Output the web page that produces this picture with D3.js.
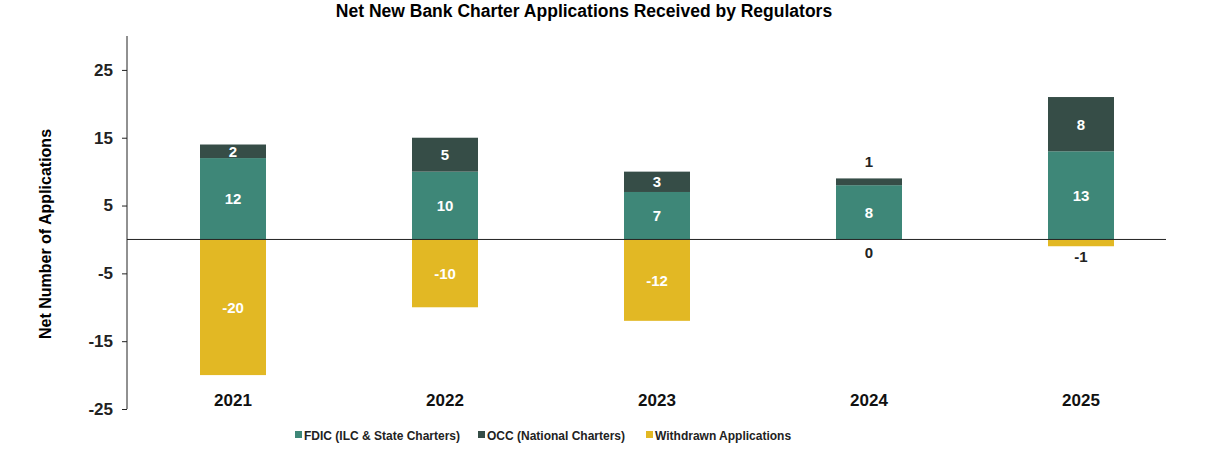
<!DOCTYPE html>
<html>
<head>
<meta charset="utf-8">
<script src="https://cdn.jsdelivr.net/npm/d3@7"></script>
<style>
  body { margin: 0; background: #fff; }
  svg text { font-family: "Liberation Sans", Arial, sans-serif; }
</style>
</head>
<body>
<div id="chart"></div>
<script>
// Data
var years = ["2021", "2022", "2023", "2024", "2025"];
var fdic = [12, 10, 7, 8, 13];
var occ = [2, 5, 3, 1, 8];
var withdrawn = [-20, -10, -12, 0, -1];
var yTicks = [25, 15, 5, -5, -15, -25];

var svgWidth = 1232;
var svgHeight = 459;

var colors = {
  fdic: "#3e8778",
  occ: "#364d47",
  withdrawn: "#e2b824"
};

var svg = d3.select("#chart")
  .append("svg")
  .attr("width", svgWidth)
  .attr("height", svgHeight);

var xScale = d3.scaleBand()
  .domain(years)
  .range([127, 1187]);

var yScale = d3.scaleLinear()
  .domain([-25, 30])
  .range([409, 36]);

var barWidth = 66;

// title
svg.append("text")
  .attr("x", 584)
  .attr("y", 17)
  .attr("text-anchor", "middle")
  .style("font-size", "17.5px")
  .style("font-weight", "bold")
  .style("fill", "#000")
  .text("Net New Bank Charter Applications Received by Regulators");

// y axis
var leftAxis = d3.axisLeft(yScale)
  .tickValues(yTicks)
  .tickFormat(d => String(d))
  .tickSize(5)
  .tickPadding(9);

var yAxis = svg.append("g")
  .attr("transform", "translate(127,0)")
  .call(leftAxis);

yAxis.select(".domain")
  .attr("d", "M0," + yScale(30) + "V" + yScale(-25))
  .attr("stroke", "#222");
yAxis.selectAll(".tick line").attr("stroke", "#222");
yAxis.selectAll(".tick text")
  .style("font-size", "17px")
  .style("font-weight", "bold")
  .style("fill", "#222");

// y axis title
svg.append("text")
  .attr("transform", "rotate(-90)")
  .attr("x", -234)
  .attr("y", 51)
  .attr("text-anchor", "middle")
  .style("font-size", "16px")
  .style("font-weight", "bold")
  .style("fill", "#000")
  .text("Net Number of Applications");

// build segments
var segments = [];
years.forEach(function(yr, i) {
  segments.push({ year: yr, key: "fdic", y0: 0, y1: fdic[i], v: fdic[i] });
  segments.push({ year: yr, key: "occ", y0: fdic[i], y1: fdic[i] + occ[i], v: occ[i] });
  segments.push({ year: yr, key: "withdrawn", y0: 0, y1: withdrawn[i], v: withdrawn[i] });
});

var barsGroup = svg.append("g");

barsGroup.selectAll("rect")
  .data(segments.filter(d => d.v !== 0))
  .enter()
  .append("rect")
  .attr("x", d => xScale(d.year) + xScale.bandwidth() / 2 - barWidth / 2)
  .attr("y", d => yScale(Math.max(d.y0, d.y1)))
  .attr("width", barWidth)
  .attr("height", d => Math.abs(yScale(d.y0) - yScale(d.y1)))
  .attr("fill", d => colors[d.key]);

// zero line
svg.append("line")
  .attr("x1", 127)
  .attr("x2", 1166)
  .attr("y1", yScale(0))
  .attr("y2", yScale(0))
  .attr("stroke", "#222")
  .attr("stroke-width", 1);

// value labels
barsGroup.selectAll("text")
  .data(segments)
  .enter()
  .append("text")
  .attr("x", d => xScale(d.year) + xScale.bandwidth() / 2)
  .attr("y", function(d) {
    if (Math.abs(d.v) >= 2) return yScale((d.y0 + d.y1) / 2) + 5.5;
    if (d.key === "withdrawn") return Math.max(yScale(d.y1) + 16, yScale(0) + 19);
    return yScale(d.y1) - 11;
  })
  .attr("text-anchor", "middle")
  .style("font-size", "15px")
  .style("font-weight", "bold")
  .style("fill", d => Math.abs(d.v) >= 2 ? "#fff" : "#222")
  .text(d => String(d.v));

// category labels
svg.append("g").selectAll("text")
  .data(years)
  .enter()
  .append("text")
  .attr("x", d => xScale(d) + xScale.bandwidth() / 2)
  .attr("y", 406)
  .attr("text-anchor", "middle")
  .style("font-size", "17px")
  .style("font-weight", "bold")
  .style("fill", "#111")
  .text(d => d);

// legend
var legendItems = [
  { key: "fdic", label: "FDIC (ILC & State Charters)", x: 295 },
  { key: "occ", label: "OCC (National Charters)", x: 478 },
  { key: "withdrawn", label: "Withdrawn Applications", x: 646 }
];

var legend = svg.append("g");
legend.selectAll("rect")
  .data(legendItems)
  .enter()
  .append("rect")
  .attr("x", d => d.x)
  .attr("y", 431)
  .attr("width", 7)
  .attr("height", 7)
  .attr("fill", d => colors[d.key]);

legend.selectAll("text")
  .data(legendItems)
  .enter()
  .append("text")
  .attr("x", d => d.x + 9)
  .attr("y", 440)
  .style("font-size", "12px")
  .style("font-weight", "bold")
  .style("fill", "#222")
  .text(d => d.label);
</script>
</body>
</html>
